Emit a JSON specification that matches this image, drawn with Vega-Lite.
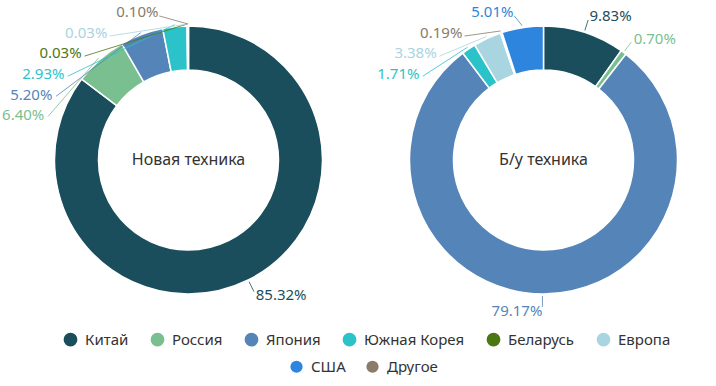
{
  "$schema": "https://vega.github.io/schema/vega-lite/v6.json",
  "background": "white",
  "padding": {"left": 2, "top": 5, "right": 0, "bottom": 0},
  "data": {"values": [
    {"chart": "Новая техника", "country": "Китай", "value": 85.32, "order": 1},
    {"chart": "Новая техника", "country": "Россия", "value": 6.40, "order": 2},
    {"chart": "Новая техника", "country": "Япония", "value": 5.20, "order": 3},
    {"chart": "Новая техника", "country": "Южная Корея", "value": 2.93, "order": 4},
    {"chart": "Новая техника", "country": "Беларусь", "value": 0.03, "order": 5},
    {"chart": "Новая техника", "country": "Европа", "value": 0.03, "order": 6},
    {"chart": "Новая техника", "country": "Другое", "value": 0.10, "order": 8},
    {"chart": "Б/у техника", "country": "Китай", "value": 9.83, "order": 1},
    {"chart": "Б/у техника", "country": "Россия", "value": 0.70, "order": 2},
    {"chart": "Б/у техника", "country": "Япония", "value": 79.17, "order": 3},
    {"chart": "Б/у техника", "country": "Южная Корея", "value": 1.71, "order": 4},
    {"chart": "Б/у техника", "country": "Европа", "value": 3.38, "order": 5},
    {"chart": "Б/у техника", "country": "Другое", "value": 0.19, "order": 6},
    {"chart": "Б/у техника", "country": "США", "value": 5.01, "order": 7}
  ]},
  "transform": [
    {"window": [{"op": "sum", "field": "value", "as": "cum"}], "groupby": ["chart"], "sort": [{"field": "order"}], "frame": [null, 0]},
    {"joinaggregate": [{"op": "sum", "field": "value", "as": "total"}], "groupby": ["chart"]},
    {"calculate": "datum.cum / datum.total * 360", "as": "a1"},
    {"calculate": "(datum.cum - datum.value) / datum.total * 360", "as": "a0"},
    {"calculate": "(datum.a0 + datum.a1) / 2", "as": "mid"},
    {"calculate": "datum.mid > 180 ? 'L' : 'R'", "as": "side"},
    {"calculate": "max(-147, -150 * cos(datum.mid * PI / 180))", "as": "nat"},
    {"window": [{"op": "row_number", "as": "rn"}], "groupby": ["chart", "side"], "sort": [{"field": "mid", "order": "descending"}]},
    {"calculate": "datum.nat - (datum.rn - 1) * 20.5", "as": "m"},
    {"window": [{"op": "max", "field": "m", "as": "cm"}], "groupby": ["chart", "side"], "sort": [{"field": "mid", "order": "descending"}], "frame": [null, 0]},
    {"calculate": "min(150, datum.cm + (datum.rn - 1) * 20.5)", "as": "ldy"},
    {"calculate": "datum.side == 'L' ? 360 - acos(clamp(-datum.ldy / 150, -1, 1)) * 180 / PI : datum.mid", "as": "lt"},
    {"calculate": "format(datum.value, '.2f') + '%'", "as": "label"},
    {"calculate": "136 * sin(datum.mid * PI / 180)", "as": "x0"},
    {"calculate": "136 * cos(datum.mid * PI / 180)", "as": "y0"},
    {"calculate": "147 * sin(datum.lt * PI / 180)", "as": "x1"},
    {"calculate": "147 * cos(datum.lt * PI / 180)", "as": "y1"}
  ],
  "facet": {"column": {"field": "chart", "type": "nominal", "sort": ["Новая техника", "Б/у техника"], "title": null, "header": {"labels": false, "title": null}}},
  "spacing": 0,
  "spec": {
    "width": 355,
    "height": 306,
    "layer": [
      {
        "mark": {"type": "arc", "innerRadius": 90, "outerRadius": 134, "stroke": "white", "strokeWidth": 1.5},
        "encoding": {
          "theta": {"field": "a0", "type": "quantitative", "stack": false, "scale": {"domain": [0, 360], "range": [0, 6.283185307179586]}},
          "theta2": {"field": "a1"},
          "color": {"field": "country", "type": "nominal",
            "scale": {"domain": ["Китай", "Россия", "Япония", "Южная Корея", "Беларусь", "Европа", "США", "Другое"],
                      "range": ["#1a4e5c", "#7abf8f", "#5585b8", "#2bc3c9", "#4b7711", "#a8d5e0", "#2e85dd", "#8a7b6b"]},
            "legend": {"values": ["Китай", "Россия", "Япония", "Южная Корея", "Беларусь", "Европа"], "orient": "none", "legendX": 52, "legendY": 325, "direction": "horizontal", "columns": 6, "title": null,
              "symbolType": "circle", "symbolSize": 150, "labelFontSize": 15, "labelFont": "Noto Sans", "labelColor": "#333333", "labelOffset": 7, "columnPadding": 19}}
        }
      },
      {
        "mark": {"type": "rule", "strokeWidth": 0.8},
        "encoding": {
          "x": {"field": "x0", "type": "quantitative", "scale": {"domain": [-177.5, 177.5], "nice": false, "zero": false}, "axis": null},
          "y": {"field": "y0", "type": "quantitative", "scale": {"domain": [-153, 153], "nice": false, "zero": false}, "axis": null},
          "x2": {"field": "x1"},
          "y2": {"field": "y1"},
          "stroke": {"field": "country", "type": "nominal",
            "scale": {"domain": ["Китай", "Россия", "Япония", "Южная Корея", "Беларусь", "Европа", "США", "Другое"],
                      "range": ["#1a4e5c", "#7abf8f", "#5585b8", "#2bc3c9", "#4b7711", "#a8d5e0", "#2e85dd", "#8a7b6b"]},
            "legend": null}
        }
      },
      {
        "transform": [{"filter": "datum.side == 'L'"}],
        "mark": {"type": "text", "align": "right", "baseline": "middle", "radius": 151, "fontSize": 15, "font": "Noto Sans"},
        "encoding": {
          "theta": {"field": "lt", "type": "quantitative", "stack": false, "scale": {"domain": [0, 360], "range": [0, 6.283185307179586]}},
          "text": {"field": "label"},
          "fill": {"field": "country", "type": "nominal",
            "scale": {"domain": ["США", "Другое", "Китай", "Россия", "Япония", "Южная Корея", "Беларусь", "Европа"],
                      "range": ["#2e85dd", "#8a7b6b", "#1a4e5c", "#7abf8f", "#5585b8", "#2bc3c9", "#4b7711", "#a8d5e0"]},
            "legend": {"values": ["США", "Другое"], "orient": "none", "legendX": 278, "legendY": 352, "direction": "horizontal", "columns": 2, "title": null,
              "symbolType": "circle", "symbolSize": 150, "labelFontSize": 15, "labelFont": "Noto Sans", "labelColor": "#333333", "labelOffset": 7, "columnPadding": 19}}
        }
      },
      {
        "transform": [{"filter": "datum.side == 'R'"}],
        "mark": {"type": "text", "align": "left", "baseline": "middle", "radius": 151, "fontSize": 15, "font": "Noto Sans"},
        "encoding": {
          "theta": {"field": "lt", "type": "quantitative", "stack": false, "scale": {"domain": [0, 360], "range": [0, 6.283185307179586]}},
          "text": {"field": "label"},
          "fill": {"field": "country", "type": "nominal",
            "scale": {"domain": ["США", "Другое", "Китай", "Россия", "Япония", "Южная Корея", "Беларусь", "Европа"],
                      "range": ["#2e85dd", "#8a7b6b", "#1a4e5c", "#7abf8f", "#5585b8", "#2bc3c9", "#4b7711", "#a8d5e0"]},
            "legend": {"values": ["США", "Другое"], "orient": "none", "legendX": 278, "legendY": 352, "direction": "horizontal", "columns": 2, "title": null,
              "symbolType": "circle", "symbolSize": 150, "labelFontSize": 15, "labelFont": "Noto Sans", "labelColor": "#333333", "labelOffset": 7, "columnPadding": 19}}
        }
      },
      {
        "transform": [{"filter": "datum.order == 1"}],
        "mark": {"type": "text", "align": "center", "baseline": "middle", "fontSize": 16, "font": "Noto Sans", "color": "#333333"},
        "encoding": {
          "x": {"datum": 0, "type": "quantitative"},
          "y": {"datum": 0, "type": "quantitative"},
          "text": {"field": "chart"}
        }
      }
    ]
  },
  "config": {"view": {"stroke": null}, "font": "Noto Sans"}
}
